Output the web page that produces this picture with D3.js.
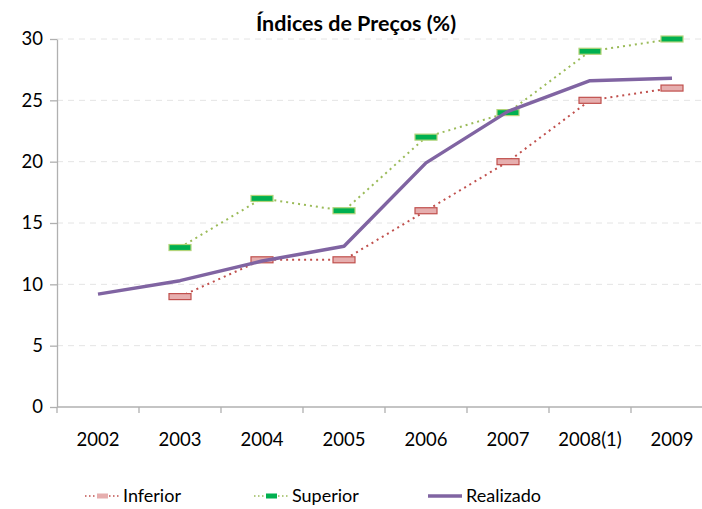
<!DOCTYPE html>
<meta charset="utf-8">
<style>
body { margin: 0; background: #fff; }
text { font-family: Lato, "Open Sans", sans-serif; fill: #000; }
.title { font-weight: bold; font-size: 21.5px; }
.axis text { font-size: 18.5px; }
.axis path, .axis line { stroke: #b0b0b0; stroke-width: 1.3px; }
.grid line { stroke: #e4e4e4; stroke-dasharray: 6,5; }
.legend text { font-size: 18px; }
</style>
<body>
<script src="https://d3js.org/d3.v7.min.js"></script>
<script>
const anos = ["2002", "2003", "2004", "2005", "2006", "2007", "2008(1)", "2009"];
const inferior = [null, 9, 12, 12, 16, 20, 25, 26];
const superior = [null, 13, 17, 16, 22, 24, 29, 30];
const realizado = [9.2, 10.3, 11.9, 13.1, 19.9, 24.1, 26.6, 26.8];
const yTicks = [0, 5, 10, 15, 20, 25, 30];

const width = 702, height = 509;
const margin = {top: 39, right: -11, bottom: 102, left: 57};

const svg = d3.select("body").append("svg")
  .attr("width", width)
  .attr("height", height);

const x = d3.scaleBand().domain(anos).range([margin.left, width - margin.right]);
const y = d3.scaleLinear().domain([0, 30]).range([height - margin.bottom, margin.top]);

svg.append("text").attr("class", "title")
  .attr("x", 356).attr("y", 31)
  .attr("text-anchor", "middle")
  .text("Índices de Preços (%)");

// gridlines
svg.append("g").attr("class", "grid")
  .selectAll("line")
  .data(yTicks.filter(d => d > 0))
  .enter().append("line")
  .attr("x1", margin.left).attr("x2", width - margin.right)
  .attr("y1", d => y(d)).attr("y2", d => y(d));

// y axis
const yAxis = svg.append("g").attr("class", "axis")
  .attr("transform", "translate(" + margin.left + ",0)")
  .call(d3.axisLeft(y).tickValues(yTicks).tickSize(7).tickSizeOuter(0).tickPadding(7));

// x axis, ticks between categories
const xAxis = svg.append("g").attr("class", "axis")
  .attr("transform", "translate(0," + y(0) + ")");
xAxis.append("line")
  .attr("x1", margin.left).attr("x2", width - margin.right)
  .attr("y1", 0).attr("y2", 0);
xAxis.selectAll(".tk")
  .data(anos)
  .enter().append("line")
  .attr("x1", d => x(d)).attr("x2", d => x(d))
  .attr("y1", 0).attr("y2", 6);
xAxis.selectAll("text")
  .data(anos)
  .enter().append("text")
  .attr("x", d => x(d) + x.bandwidth() / 2)
  .attr("y", 39)
  .attr("text-anchor", "middle")
  .text(d => d);

const cx = i => x(anos[i]) + x.bandwidth() / 2;

const line = d3.line()
  .defined(d => d != null)
  .x((d, i) => cx(i))
  .y(d => y(d));

svg.append("path")
  .datum(inferior)
  .attr("fill", "none")
  .attr("stroke", "#c0504d")
  .attr("stroke-width", 2)
  .attr("stroke-dasharray", "2,4")
  .attr("d", line);

svg.append("path")
  .datum(superior)
  .attr("fill", "none")
  .attr("stroke", "#9bbb59")
  .attr("stroke-width", 2)
  .attr("stroke-dasharray", "2,4")
  .attr("d", line);

function marcadores(dados, fill, stroke) {
  svg.append("g").selectAll("rect")
    .data(dados.map((v, i) => ({v: v, i: i})).filter(d => d.v != null))
    .enter().append("rect")
    .attr("x", d => cx(d.i) - 11)
    .attr("y", d => y(d.v) - 3)
    .attr("width", 22)
    .attr("height", 6)
    .attr("fill", fill)
    .attr("stroke", stroke)
    .attr("stroke-width", 1.2);
}
marcadores(inferior, "#e6aeae", "#c0504d");
marcadores(superior, "#00b050", "#b3d47a");

svg.append("path")
  .datum(realizado)
  .attr("fill", "none")
  .attr("stroke", "#8064a2")
  .attr("stroke-width", 3.5)
  .attr("stroke-linejoin", "round")
  .attr("d", line);

// legend
const leg = svg.append("g").attr("class", "legend");
const ly = 496;
const itens = [
  {nome: "Inferior", x0: 85, cor: "#c0504d", fill: "#e6aeae", dot: true},
  {nome: "Superior", x0: 254, cor: "#9bbb59", fill: "#00b050", dot: true},
  {nome: "Realizado", x0: 428, cor: "#8064a2", dot: false}
];
itens.forEach(it => {
  leg.append("line")
    .attr("x1", it.x0).attr("x2", it.x0 + 34)
    .attr("y1", ly).attr("y2", ly)
    .attr("stroke", it.cor)
    .attr("stroke-width", it.dot ? 1.5 : 3.5)
    .attr("stroke-dasharray", it.dot ? "1.5,2.5" : null);
  if (it.dot) {
    leg.append("rect")
      .attr("x", it.x0 + 12).attr("y", ly - 2.5)
      .attr("width", 11).attr("height", 5)
      .attr("fill", it.fill);
  }
  leg.append("text")
    .attr("x", it.x0 + 38).attr("y", ly + 6)
    .text(it.nome);
});
</script>
</body>
